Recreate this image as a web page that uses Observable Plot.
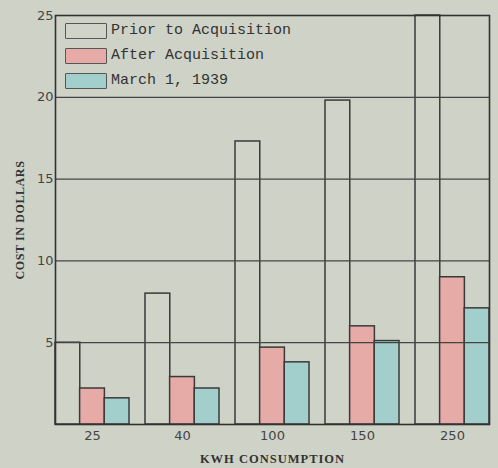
<!DOCTYPE html>
<html>
<head>
<meta charset="utf-8">
<script src="https://cdn.jsdelivr.net/npm/d3@7"></script>
<script src="https://cdn.jsdelivr.net/npm/@observablehq/plot@0.6"></script>
<style>
  html, body { margin: 0; padding: 0; background: #cfd2c7; }
  #wrap { position: relative; width: 498px; height: 468px; }
  #legend { position: absolute; left: 65px; top: 18px; font-family: "Liberation Mono", monospace; font-size: 15px; color: #333; }
  .item { display: flex; align-items: center; height: 25px; }
  .sw { width: 40px; height: 14px; border: 1.5px solid #555; margin-right: 4px; border-radius: 1px; }
  g[aria-label="y-axis label"] text { font-family: "Liberation Serif", serif; font-weight: bold; font-size: 12px; letter-spacing: 0.6px; fill: #333; }
  g[aria-label="x-axis label"] text { font-family: "Liberation Serif", serif; font-weight: bold; font-size: 12.5px; letter-spacing: 1px; fill: #333; }
</style>
</head>
<body>
<div id="wrap"><div id="legend"></div></div>
<script>
const kwh = ["25", "40", "100", "150", "250"];
const series = ["Prior to Acquisition", "After Acquisition", "March 1, 1939"];
const prior = [5, 8, 17.3, 19.8, 25];
const after = [2.2, 2.9, 4.7, 6.0, 9.0];
const march = [1.6, 2.2, 3.8, 5.1, 7.1];
const yTicks = [5, 10, 15, 20, 25];
const gridValues = [5, 10, 15, 20];
const colors = ["#d0d3c8", "#e6aaa7", "#a2cfcb"];

const W = 498, H = 468, mL = 55, mR = 9, mT = 15, mB = 44;
const padInner = 0.18;
const step = (W - mL - mR) / (kwh.length - padInner);
const bandwidth = step * (1 - padInner);
const third = bandwidth / series.length;

const seriesValues = [prior, after, march];
const barMarks = series.map((s, j) => {
  const rows = kwh.map((k, i) => ({kwh: k, series: s, value: seriesValues[j][i]}));
  return Plot.barY(rows, {
    x: "kwh", y: "value", fill: "series",
    stroke: "#3a3a3a", strokeWidth: 1.5,
    insetLeft: j * third, insetRight: (series.length - 1 - j) * third
  });
});

const chart = Plot.plot({
  width: W,
  height: H,
  marginLeft: mL,
  marginRight: mR,
  marginTop: mT,
  marginBottom: mB,
  style: {background: "transparent", fontFamily: "DejaVu Sans, sans-serif", fontSize: "13px", color: "#444"},
  x: {domain: kwh, paddingInner: padInner, paddingOuter: 0},
  y: {domain: [0, 25]},
  color: {domain: series, range: colors},
  marks: [
    ...barMarks,
    Plot.ruleY(gridValues, {stroke: "#444", strokeWidth: 1.3}),
    Plot.frame({stroke: "#333", strokeWidth: 1.6}),
    Plot.axisY({ticks: yTicks, tickSize: 0, tickPadding: 2, label: "COST IN DOLLARS", labelAnchor: "center", labelArrow: "none", labelOffset: 40}),
    Plot.axisX({tickSize: 0, tickPadding: 6, label: "KWH CONSUMPTION", labelAnchor: "center", labelArrow: "none", labelOffset: 38})
  ]
});
document.getElementById("wrap").prepend(chart);

const legend = document.getElementById("legend");
series.forEach((s, i) => {
  const item = document.createElement("div");
  item.className = "item";
  const sw = document.createElement("div");
  sw.className = "sw";
  sw.style.background = colors[i];
  const t = document.createElement("span");
  t.textContent = s;
  item.append(sw, t);
  legend.append(item);
});
</script>
</body>
</html>
